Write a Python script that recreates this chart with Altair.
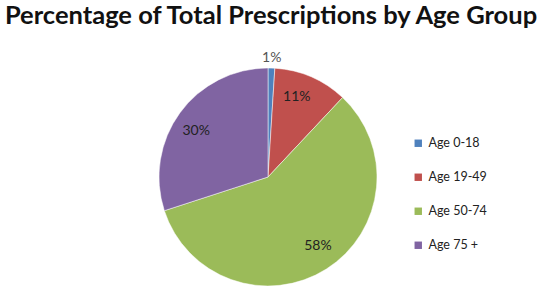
import altair as alt
import pandas as pd

groups = ["Age 0-18", "Age 19-49", "Age 50-74", "Age 75 +"]
values = [1, 11, 58, 30]
labels = ["1%", "11%", "58%", "30%"]
colors = ["#4F81BD", "#C0504D", "#9BBB59", "#8064A2"]

df = pd.DataFrame({"group": groups, "value": values, "label": labels,
                   "idx": list(range(len(groups)))})

CX = 266
CY = 146

base = alt.Chart(df).encode(
    theta=alt.Theta("value:Q", stack=True),
    order=alt.Order("idx:Q"),
)

arcs = base.mark_arc(outerRadius=109, stroke="white", strokeWidth=0.5).encode(
    color=alt.Color(
        "group:N",
        scale=alt.Scale(domain=groups, range=colors),
        sort=groups,
        legend=alt.Legend(
            title=None, orient="none", legendX=410, legendY=106,
            symbolType="square", symbolSize=55, symbolStrokeWidth=0,
            labelFont="Lato", labelFontSize=12.5, labelColor="#222",
            rowPadding=21, labelOffset=4,
        ),
    ),
    x=alt.value(CX), y=alt.value(CY),
)

inner = base.mark_text(font="Lato", fontSize=14, color="#222").encode(
    text="label:N", radius=alt.value(85), x=alt.value(CX), y=alt.value(CY),
).transform_filter("datum.value >= 5")

outer = base.mark_text(font="Lato", fontSize=14, color="#555").encode(
    text="label:N", radius=alt.value(119), x=alt.value(CX), y=alt.value(CY),
).transform_filter("datum.value < 5")

chart = alt.layer(arcs, inner, outer).properties(
    width=540, height=288,
    background="white",
    title=alt.TitleParams(
        "Percentage of Total Prescriptions by Age Group",
        font="Lato", fontSize=25.5, fontWeight="bold", color="#111",
        anchor="middle", offset=2,
    ),
    padding={"left": 2, "right": 0, "top": 3, "bottom": 0},
    autosize=alt.AutoSizeParams(type="fit", contains="padding"),
).configure_view(strokeWidth=0, stroke="transparent")

chart.save("out.html", embed_options={"renderer": "svg", "actions": False})
